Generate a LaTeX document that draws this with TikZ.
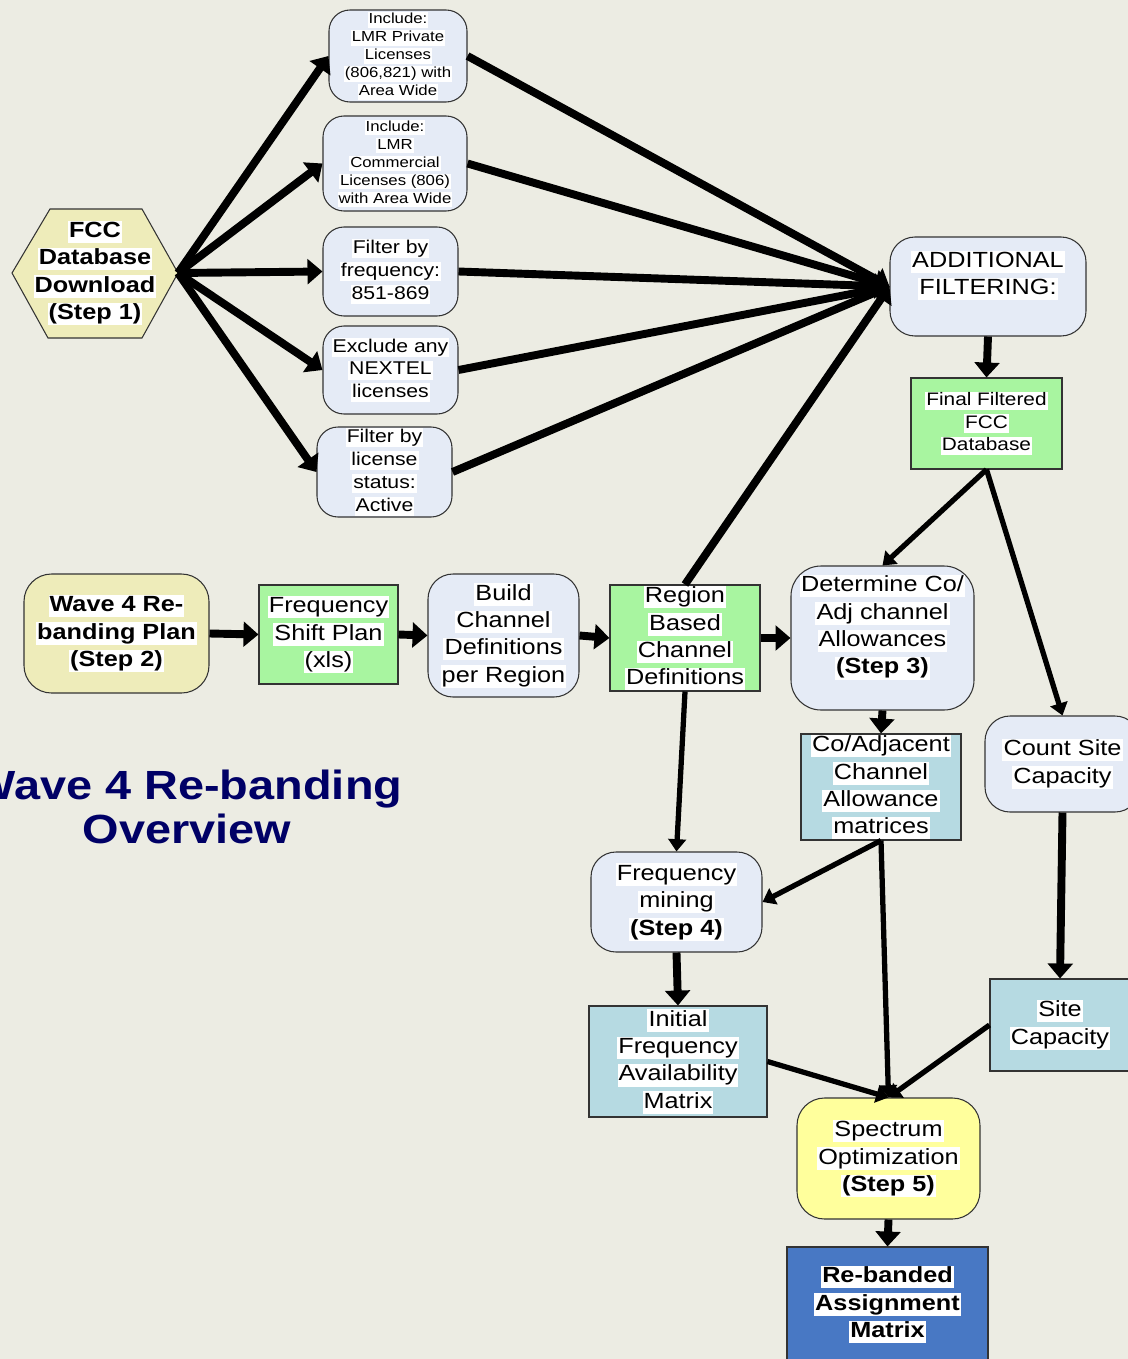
\documentclass[tikz,border=0pt]{standalone}
\usepackage{fontspec}
\setmainfont[FakeStretch=1.15]{Liberation Sans}
\usetikzlibrary{arrows.meta}
\definecolor{bg}{HTML}{ECECE3}
\definecolor{lblue}{HTML}{E5EBF6}
\definecolor{khaki}{HTML}{EEECBA}
\definecolor{lgreen}{HTML}{A8F5A0}
\definecolor{teal}{HTML}{B6DAE2}
\definecolor{lyellow}{HTML}{FFFF9C}
\definecolor{dblue}{HTML}{4878C4}
\definecolor{navy}{HTML}{000066}
\newdimen\pxu \pxu=0.02cm
\setlength\fboxsep{0.6pt}
\newcommand\hl[1]{\colorbox{white}{\rule[-0.2em]{0pt}{0.92em}#1}}
\newcommand\fA{\fontsize{12.5}{15.6}\selectfont}
\newcommand\fB{\fontsize{10.5}{13}\selectfont}
\newcommand\fC{\fontsize{8.3}{10.2}\selectfont}
\newcommand\fD{\fontsize{10.3}{12.8}\selectfont}
\newcommand\fT{\fontsize{23.2}{25}\selectfont\bfseries}
\tikzset{
  base/.style={draw=black!80, line width=0.6pt, inner sep=0pt, align=center, font=\fA},
  rbox/.style={base, rounded corners=0.5cm, fill=lblue},
  gbox/.style={base, fill=lgreen},
  tbox/.style={base, fill=teal},
  thick arr/.style={line width=4.5pt, -{Triangle[length=8.5pt,width=14pt]}},
  thin arr/.style={line width=3pt, -{Triangle[length=7pt,width=10pt]}},
}
\begin{document}
\begin{tikzpicture}[x=0.02cm,y=-0.02cm]
\useasboundingbox (0,0) rectangle (1128,1359);
\clip (0,0) rectangle (1128,1359);
\fill[bg] (0,0) rectangle (1128,1359);

% title
\node[font=\fT, text=navy, align=center] (title) at (187,807) {Wave 4 Re-banding\\Overview};

% hexagon
\filldraw[fill=khaki, draw=black!80, line width=0.6pt] (12,273) -- (50,209) -- (142,209) -- (178,273) -- (142,338) -- (48,338) -- cycle;
\coordinate (fccR) at (178,273);
\node[align=center, font=\fA\bfseries, inner sep=0pt] (fcc) at (95,273) {\hl{FCC}\\\hl{Database}\\\hl{Download}\\\hl{(Step 1)}};

% filter boxes
\node[rbox, font=\fC, minimum width=138*\pxu, minimum height=92*\pxu, rounded corners=0.42cm] (incA) at (398,56)
  {\hl{Include:}\\\hl{LMR Private}\\\hl{Licenses}\\\hl{(806,821) with}\\\hl{Area Wide}};
\node[rbox, font=\fC, minimum width=144*\pxu, minimum height=95*\pxu, rounded corners=0.42cm] (incB) at (395,163.5)
  {\hl{Include:}\\\hl{LMR}\\\hl{Commercial}\\\hl{Licenses (806)}\\\hl{with Area Wide}};
\node[rbox, font=\fB, minimum width=135*\pxu, minimum height=89*\pxu, rounded corners=0.42cm] (fltC) at (390.5,271.5)
  {\hl{Filter by}\\\hl{frequency:}\\\hl{851-869}};
\node[rbox, font=\fB, minimum width=135*\pxu, minimum height=88*\pxu, rounded corners=0.42cm] (fltD) at (390.5,370)
  {\hl{Exclude any}\\\hl{NEXTEL}\\\hl{licenses}};
\node[rbox, font=\fB, minimum width=135*\pxu, minimum height=90*\pxu, rounded corners=0.42cm] (fltE) at (384.5,472)
  {\hl{Filter by}\\\hl{license}\\\hl{status:}\\\hl{Active}};

\node[rbox, minimum width=196*\pxu, minimum height=99*\pxu] (addf) at (988,286.5)
  {\hl{ADDITIONAL}\\\hl{FILTERING:}\\\mbox{}};
\node[gbox, font=\fD, minimum width=151*\pxu, minimum height=91*\pxu] (final) at (986.5,423.5)
  {\hl{Final Filtered}\\\hl{FCC}\\\hl{Database}};

% middle row
\node[base, rounded corners=0.55cm, fill=khaki, font=\fA\bfseries, minimum width=185*\pxu, minimum height=119*\pxu] (wave) at (116.5,633.5)
  {\hl{Wave 4 Re-}\\\hl{banding Plan}\\\hl{(Step 2)}};
\node[gbox, minimum width=139*\pxu, minimum height=99*\pxu] (fshift) at (328.5,634.5)
  {\hl{Frequency}\\\hl{Shift Plan}\\\hl{(xls)}};
\node[rbox, minimum width=151*\pxu, minimum height=123*\pxu] (build) at (503.5,635.5)
  {\hl{Build}\\\hl{Channel}\\\hl{Definitions}\\\hl{per Region}};
\node[gbox, minimum width=150*\pxu, minimum height=106*\pxu] (region) at (685,638)
  {\hl{Region}\\\hl{Based}\\\hl{Channel}\\\hl{Definitions}};
\node[rbox, rounded corners=0.6cm, minimum width=183*\pxu, minimum height=144*\pxu] (determ) at (882.5,638)
  {\hl{Determine Co/}\\\hl{Adj channel}\\\hl{Allowances}\\\hl{\textbf{(Step 3)}}\\\mbox{}};

\node[tbox, minimum width=160*\pxu, minimum height=106*\pxu] (coadj) at (881,787)
  {\hl{Co/Adjacent}\\\hl{Channel}\\\hl{Allowance}\\\hl{matrices}};
\node[rbox, minimum width=155*\pxu, minimum height=96*\pxu] (count) at (1062.5,764)
  {\hl{Count Site}\\\hl{Capacity}};
\node[rbox, minimum width=171*\pxu, minimum height=100*\pxu] (mining) at (676.5,902)
  {\hl{Frequency}\\\hl{mining}\\\hl{\textbf{(Step 4)}}};
\node[tbox, minimum width=178*\pxu, minimum height=111*\pxu] (initial) at (678,1061.5)
  {\hl{Initial}\\\hl{Frequency}\\\hl{Availability}\\\hl{Matrix}};
\node[tbox, minimum width=140*\pxu, minimum height=92*\pxu] (site) at (1060,1025)
  {\hl{Site}\\\hl{Capacity}};
\node[base, rounded corners=0.55cm, fill=lyellow, minimum width=183*\pxu, minimum height=121*\pxu] (spectrum) at (888.5,1158.5)
  {\hl{Spectrum}\\\hl{Optimization}\\\hl{\textbf{(Step 5)}}};
\node[base, fill=dblue, font=\fA\bfseries, minimum width=201*\pxu, minimum height=115*\pxu] (reband) at (887.5,1304.5)
  {\hl{Re-banded}\\\hl{Assignment}\\\hl{Matrix}};

% connectors
\foreach \n in {incA,incB,fltC,fltD,fltE}{
  \draw[thick arr] (fccR) -- (\n.west);
  \draw[thick arr] (\n.east) -- (addf.west);
}
\draw[thick arr] (region.north) -- (addf.west);
\draw[thick arr] (addf.south) -- (final.north);
\draw[thin arr] (final.south) -- (determ.north);
\draw[thin arr] (final.south) -- (count.north);
\draw[thick arr] (wave.east) -- (fshift.west);
\draw[thick arr] (fshift.east) -- (build.west);
\draw[thick arr] (build.east) -- (region.west);
\draw[thick arr] (region.east) -- (determ.west);
\draw[thick arr] (determ.south) -- (coadj.north);
\draw[thin arr] (region.south) -- (mining.north);
\draw[thin arr] (coadj.south) -- (mining.east);
\draw[thin arr] (coadj.south) -- (spectrum.north);
\draw[thick arr] (count.south) -- (site.north);
\draw[thick arr] (mining.south) -- (initial.north);
\draw[thin arr] (initial.east) -- (spectrum.north);
\draw[thin arr] (site.west) -- (spectrum.north);
\draw[thick arr] (spectrum.south) -- (reband.north);
\end{tikzpicture}
\end{document}
